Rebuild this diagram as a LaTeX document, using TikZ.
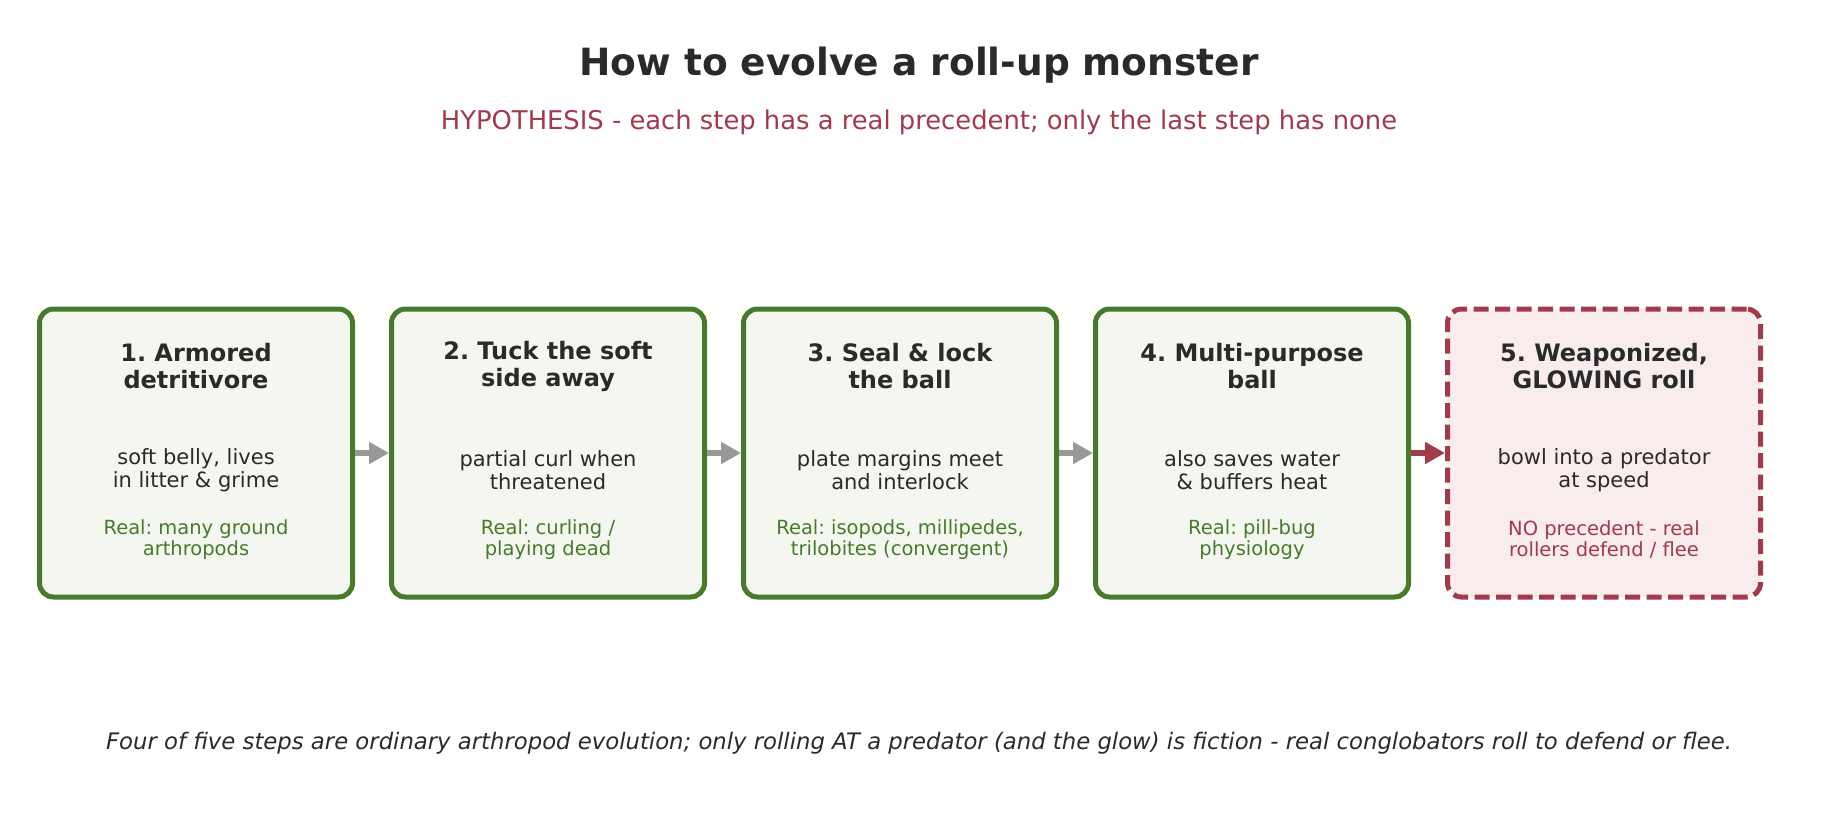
\documentclass[tikz,border=0pt]{standalone}
\usepackage{fontspec}
\setmainfont{DejaVu Sans}
\usetikzlibrary{arrows.meta}
\frenchspacing
\definecolor{ink}{HTML}{2A2A2A}
\definecolor{leaf}{HTML}{467A2C}
\definecolor{leaffill}{HTML}{F4F7F0}
\definecolor{wine}{HTML}{A33A4A}
\definecolor{winefill}{HTML}{F9ECED}
\definecolor{arrgray}{HTML}{999999}
\tikzset{
  stepbox/.style={draw=leaf, fill=leaffill, line width=5pt, rounded corners=14pt,
    minimum width=313pt, minimum height=288pt, inner sep=0pt},
  fakebox/.style={stepbox, draw=wine, fill=winefill, dash pattern=on 15pt off 6.5pt},
  steptitle/.style={align=center, text=ink, font=\fontsize{24}{27}\selectfont\bfseries, inner sep=0pt},
  stepbody/.style={align=center, text=ink, font=\fontsize{21}{23}\selectfont, inner sep=0pt},
  stepreal/.style={align=center, text=leaf, font=\fontsize{19.5}{21.5}\selectfont, inner sep=0pt},
  stepnone/.style={stepreal, text=wine},
  arr/.style={draw=arrgray, line width=5.5pt, -{Triangle[length=20pt,width=21pt]}},
  redarr/.style={arr, draw=wine},
}
\begin{document}
\begin{tikzpicture}[x=1pt,y=-1pt]
\useasboundingbox[fill=white] (0,0) rectangle (1838,840);
\node[text=ink, font=\fontsize{37.5}{40}\selectfont\bfseries] (title) at (919,65.5) {How to evolve a roll-up monster};
\node[text=wine, font=\fontsize{25.8}{28}\selectfont] (sub) at (919,122) {HYPOTHESIS - each step has a real precedent; only the last step has none};

\node[stepbox] (b1) at (196,453) {};
\node[stepbox] (b2) at (548,453) {};
\node[stepbox] (b3) at (900,453) {};
\node[stepbox] (b4) at (1252,453) {};
\node[fakebox] (b5) at (1604,453) {};

\node[steptitle] (t1) at (196,366) {1. Armored\\detritivore};
\node[stepbody] (d1) at (196,470.5) {soft belly, lives\\in litter \& grime};
\node[stepreal] (r1) at (196,539.5) {Real: many ground\\arthropods};

\node[steptitle] (t2) at (548,366) {2. Tuck the soft\\side away};
\node[stepbody] (d2) at (548,470.5) {partial curl when\\threatened};
\node[stepreal] (r2) at (548,539.5) {Real: curling /\\playing dead};

\node[steptitle] (t3) at (900,366) {3. Seal \& lock\\the ball};
\node[stepbody] (d3) at (900,470.5) {plate margins meet\\and interlock};
\node[stepreal] (r3) at (900,539.5) {Real: isopods, millipedes,\\trilobites (convergent)};

\node[steptitle] (t4) at (1252,366) {4. Multi-purpose\\ball};
\node[stepbody] (d4) at (1252,470.5) {also saves water\\\& buffers heat};
\node[stepreal] (r4) at (1252,539.5) {Real: pill-bug\\physiology};

\node[steptitle] (t5) at (1604,366) {5. Weaponized,\\GLOWING roll};
\node[stepbody] (d5) at (1604,470.5) {bowl into a predator\\at speed};
\node[stepnone] (r5) at (1604,539.5) {NO precedent - real\\rollers defend / flee};

\draw[arr] (b1.east) -- (b2.west);
\draw[arr] (b2.east) -- (b3.west);
\draw[arr] (b3.east) -- (b4.west);
\draw[redarr] (b4.east) -- (b5.west);

\node[text=ink, font=\fontsize{22.75}{26}\selectfont\itshape] (foot) at (919,743.5) {Four of five steps are ordinary arthropod evolution; only rolling AT a predator (and the glow) is fiction - real conglobators roll to defend or flee.};
\end{tikzpicture}
\end{document}
